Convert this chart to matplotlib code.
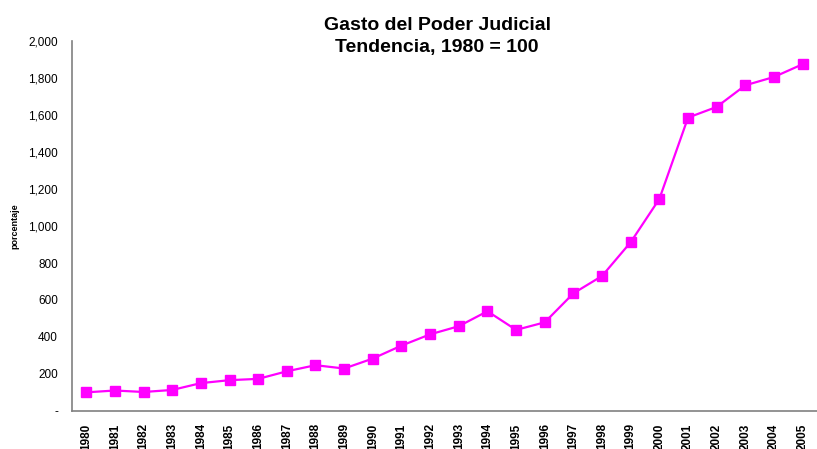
import matplotlib
matplotlib.use("Agg")
import matplotlib.pyplot as plt
from matplotlib.ticker import FuncFormatter

years = [str(y) for y in range(1980, 2006)]
values = [100, 110, 102, 113, 150, 166, 173, 214, 247, 229, 283, 353, 414, 458,
          539, 438, 479, 636, 730, 913, 1147, 1587, 1645, 1762, 1807, 1876]
yticks = [0, 200, 400, 600, 800, 1000, 1200, 1400, 1600, 1800, 2000]

plt.rcParams['font.family'] = ['Liberation Sans', 'DejaVu Sans']

fig = plt.figure(figsize=(8.17, 4.49), dpi=100)
ax = fig.add_axes([0.088, 0.085, 0.912, 0.823])
x = list(range(len(years)))
ax.plot(x, values, color='#FF00FF', lw=1.6, marker='s', markersize=7,
        markerfacecolor='#FF00FF', markeredgecolor='#FF00FF')
ax.set_xlim(-0.5, len(years) - 0.5)
ax.set_ylim(0, 2000)
ax.set_yticks(yticks)
ax.yaxis.set_major_formatter(FuncFormatter(lambda v, p: '-' if v == 0 else f'{int(v):,}'))
ax.set_xticks(x)
ax.set_xticklabels(years, rotation=90, fontweight='bold', fontsize=8.5)
ax.tick_params(axis='y', length=0, labelsize=8.5, pad=10)
ax.tick_params(axis='x', length=0, pad=9)
for s in ['top', 'right']:
    ax.spines[s].set_visible(False)
for s in ['left', 'bottom']:
    ax.spines[s].set_color('#808080')
    ax.spines[s].set_linewidth(1.2)
ax.set_ylabel('porcentaje', fontsize=6.5, fontweight='bold')
ax.yaxis.set_label_coords(-0.07, 0.5)
fig.text(0.535, 0.963, 'Gasto del Poder Judicial\nTendencia, 1980 = 100', ha='center', va='top',
         fontsize=14, fontweight='bold', linespacing=1.4)
fig.savefig('out.png', dpi=100)
